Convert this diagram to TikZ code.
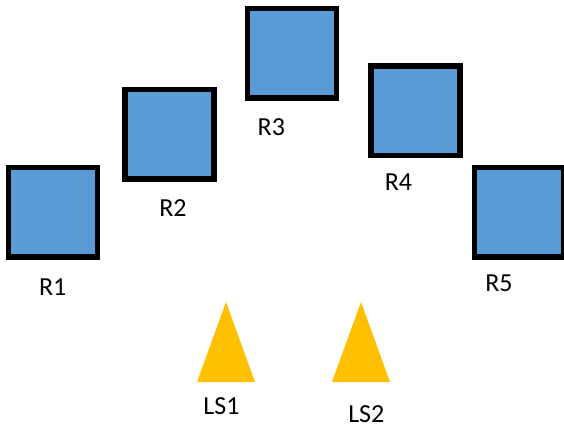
\documentclass[tikz,border=0pt]{standalone}
\usepackage{fontspec}
\setmainfont{Carlito}
\definecolor{boxblue}{HTML}{5B9BD5}
\definecolor{lsgold}{HTML}{FFC000}
\begin{document}
\begin{tikzpicture}[x=1pt,y=-1pt,
  rbox/.style={draw=black,fill=boxblue,line width=5.5pt,minimum width=89pt,minimum height=89.5pt,inner sep=0pt},
  lbl/.style={anchor=base,inner sep=0pt,font=\fontsize{26}{30}\selectfont},
  ls/.style={fill=lsgold}]
\useasboundingbox (0,0) rectangle (564,427);
\node[rbox] (r1) at (53,212.5) {};
\node[rbox] (r2) at (169.5,134.5) {};
\node[rbox] (r3) at (292,53.5) {};
\node[rbox] (r4) at (415.5,111) {};
\node[rbox] (r5) at (519,212.5) {};
\fill[ls] (226,302) -- (255,382) -- (197,382) -- cycle;
\fill[ls] (361,302) -- (390,382) -- (332,382) -- cycle;
\node[lbl] (t1) at (52.7,295) {R1};
\node[lbl] (t2) at (173,216.7) {R2};
\node[lbl] (t3) at (271.3,135.3) {R3};
\node[lbl] (t4) at (398.5,190.3) {R4};
\node[lbl] (t5) at (499,291) {R5};
\node[lbl] (t6) at (221.5,414.7) {LS1};
\node[lbl] (t7) at (366.3,422) {LS2};
\end{tikzpicture}
\end{document}
